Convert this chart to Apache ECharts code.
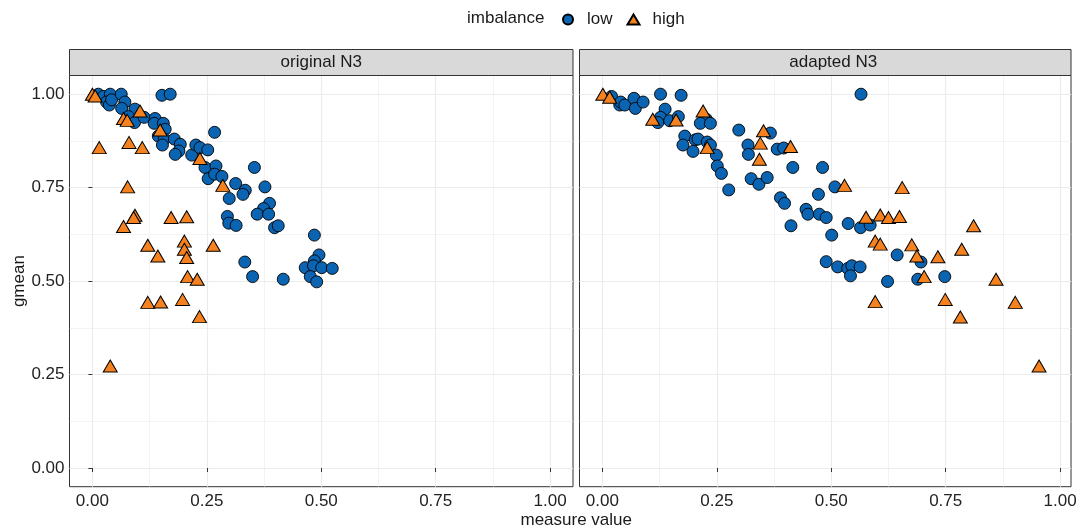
<!DOCTYPE html>
<html>
<head>
<meta charset="utf-8">
<script src="https://cdn.jsdelivr.net/npm/echarts@6/dist/echarts.min.js"></script>
<style>
  html, body { margin: 0; padding: 0; background: #ffffff; }
  #chart { width: 1079px; height: 531px; }
</style>
</head>
<body>
<div id="chart"></div>
<script>
// Facet titles and legend groups
const panelTitles = ['original N3', 'adapted N3'];
const groupNames = ['low', 'high'];
const legendTitle = 'imbalance';
const xTitle = 'measure value';
const yTitle = 'gmean';

// Axis breaks
const majorBreaks = [0, 0.25, 0.5, 0.75, 1];
const majorLabels = ['0.00', '0.25', '0.50', '0.75', '1.00'];
const minorBreaks = [0.125, 0.375, 0.625, 0.875];

// original N3 – low imbalance
const originalLowX = [0.013, 0.024, 0.039, 0.031, 0.037, 0.042, 0.063, 0.071, 0.064, 0.093, 0.079, 0.092, 0.113, 0.152, 0.170,
  0.137, 0.135, 0.155, 0.159, 0.144, 0.157, 0.153, 0.179, 0.192, 0.189, 0.181, 0.217, 0.226, 0.235, 0.252, 0.267, 0.246, 0.270,
  0.253, 0.267, 0.283, 0.354, 0.313, 0.334, 0.329, 0.299, 0.377, 0.387, 0.374, 0.360, 0.385, 0.295, 0.298, 0.314, 0.398, 0.406,
  0.333, 0.350, 0.417, 0.485, 0.495, 0.485, 0.465, 0.483, 0.501, 0.524, 0.476, 0.490];
const originalLowY = [1.000, 0.994, 1.000, 0.979, 0.971, 0.985, 1.000, 0.979, 0.962, 0.960, 0.940, 0.924, 0.938, 0.997, 1.000,
  0.935, 0.922, 0.922, 0.906, 0.888, 0.880, 0.864, 0.880, 0.866, 0.848, 0.839, 0.837, 0.864, 0.857, 0.851, 0.898, 0.804, 0.808,
  0.774, 0.786, 0.780, 0.804, 0.761, 0.743, 0.732, 0.721, 0.752, 0.708, 0.694, 0.679, 0.679, 0.673, 0.655, 0.649, 0.643, 0.648,
  0.551, 0.512, 0.505, 0.623, 0.570, 0.554, 0.536, 0.541, 0.536, 0.534, 0.512, 0.498];

// original N3 – high imbalance
const originalHighX = [0.000, 0.006, 0.015, 0.080, 0.109, 0.104, 0.068, 0.076, 0.148, 0.235, 0.285, 0.077, 0.093, 0.090, 0.068,
  0.172, 0.206, 0.121, 0.143, 0.201, 0.201, 0.206, 0.264, 0.208, 0.229, 0.121, 0.149, 0.197, 0.234, 0.039];
const originalHighY = [1.000, 0.995, 0.857, 0.871, 0.857, 0.955, 0.935, 0.930, 0.904, 0.828, 0.756, 0.752, 0.676, 0.670, 0.646,
  0.670, 0.672, 0.596, 0.567, 0.607, 0.585, 0.563, 0.596, 0.512, 0.505, 0.443, 0.444, 0.451, 0.405, 0.273];

// adapted N3 – low imbalance
const adaptedLowX = [0.020, 0.038, 0.040, 0.049, 0.069, 0.072, 0.089, 0.127, 0.172, 0.137, 0.127, 0.121, 0.147, 0.166, 0.227,
  0.214, 0.236, 0.298, 0.367, 0.180, 0.203, 0.209, 0.176, 0.198, 0.229, 0.236, 0.249, 0.251, 0.260, 0.318, 0.319, 0.382, 0.396,
  0.325, 0.342, 0.360, 0.276, 0.389, 0.398, 0.565, 0.416, 0.481, 0.508, 0.472, 0.445, 0.449, 0.474, 0.489, 0.412, 0.537, 0.564,
  0.585, 0.501, 0.644, 0.696, 0.489, 0.514, 0.536, 0.545, 0.563, 0.542, 0.623, 0.689, 0.748];
const adaptedLowY = [0.994, 0.971, 0.979, 0.971, 0.989, 0.962, 0.979, 1.000, 0.997, 0.960, 0.938, 0.924, 0.929, 0.940, 0.933,
  0.922, 0.922, 0.904, 0.896, 0.888, 0.878, 0.880, 0.864, 0.847, 0.872, 0.864, 0.837, 0.808, 0.788, 0.864, 0.839, 0.853, 0.856,
  0.774, 0.759, 0.777, 0.744, 0.723, 0.708, 1.000, 0.804, 0.804, 0.752, 0.732, 0.692, 0.679, 0.679, 0.670, 0.648, 0.654, 0.643,
  0.650, 0.623, 0.570, 0.551, 0.552, 0.538, 0.534, 0.541, 0.538, 0.514, 0.499, 0.505, 0.512];

// adapted N3 – high imbalance
const adaptedHighX = [0.001, 0.016, 0.110, 0.161, 0.220, 0.229, 0.352, 0.345, 0.343, 0.411, 0.529, 0.655, 0.576, 0.607, 0.625,
  0.649, 0.811, 0.596, 0.607, 0.676, 0.687, 0.785, 0.733, 0.703, 0.860, 0.596, 0.749, 0.902, 0.782, 0.954];
const adaptedHighY = [1.000, 0.992, 0.933, 0.931, 0.955, 0.857, 0.902, 0.869, 0.826, 0.860, 0.756, 0.750, 0.671, 0.677, 0.670,
  0.673, 0.648, 0.607, 0.599, 0.597, 0.567, 0.585, 0.565, 0.512, 0.505, 0.445, 0.451, 0.443, 0.404, 0.273];

const pairUp = (xs, ys) => xs.map((x, i) => [x, ys[i]]);

const FONT = "'Liberation Sans', Arial, sans-serif";
const TEXT = '#1a1a1a';
const GRIDLINE = '#ebebeb';
const FRAME = '#333333';
const LOW_FILL = '#0a64b2';
const HIGH_FILL = '#f5821f';

// Panel geometry: both panels share one x scale; the right one is trimmed by the page edge margin
const panelTop = 75.5;
const panelHeight = 411.2;
const panelLefts = [69.5, 579.5];
const panelWidths = [503.5, 491.5];
const stripHeight = 26;
const xMin = -0.05;
const xMaxes = panelWidths.map(w => xMin + 1.1 * w / panelWidths[0]);

const grids = panelLefts.map((left, p) => ({
  left: left, top: panelTop, width: panelWidths[p], height: panelHeight,
  show: true, backgroundColor: '#ffffff', borderColor: FRAME, borderWidth: 1,
  containLabel: false, outerBoundsMode: 'none'
}));

const fmt = v => {
  const k = majorBreaks.findIndex(b => Math.abs(b - v) < 1e-9);
  return k >= 0 ? majorLabels[k] : '';
};

function majorAxis(gridIndex, isY, showLabels) {
  return {
    type: 'value', gridIndex: gridIndex, min: isY ? -0.05 : xMin, max: isY ? 1.05 : xMaxes[gridIndex],
    axisLine: { show: false },
    axisTick: { show: showLabels, customValues: majorBreaks, length: 4, lineStyle: { color: FRAME, width: 1 } },
    axisLabel: {
      show: showLabels, customValues: majorBreaks, formatter: fmt, hideOverlap: false,
      showMinLabel: true, showMaxLabel: true,
      color: '#222222', fontSize: 17, fontFamily: FONT, margin: isY ? 5 : 6
    },
    splitLine: { show: true, lineStyle: { color: GRIDLINE, width: 1.1 } },
    z: 1
  };
}
function minorAxis(gridIndex, isY) {
  return {
    type: 'value', gridIndex: gridIndex, min: isY ? -0.05 : xMin, max: isY ? 1.05 : xMaxes[gridIndex],
    axisLine: { show: false },
    axisTick: { show: false, customValues: minorBreaks },
    axisLabel: { show: false, customValues: minorBreaks },
    splitLine: { show: true, lineStyle: { color: GRIDLINE, width: 0.6 } },
    z: 0
  };
}

const xAxes = [majorAxis(0, false, true), majorAxis(1, false, true), minorAxis(0, false), minorAxis(1, false)];
const yAxes = [majorAxis(0, true, true), majorAxis(1, true, false), minorAxis(0, true), minorAxis(1, true)];
yAxes[0].name = yTitle;
yAxes[0].nameLocation = 'middle';
yAxes[0].nameGap = 42;
yAxes[0].nameTextStyle = { color: TEXT, fontSize: 17, fontFamily: FONT };

const panelData = [
  { low: pairUp(originalLowX, originalLowY), high: pairUp(originalHighX, originalHighY) },
  { low: pairUp(adaptedLowX, adaptedLowY), high: pairUp(adaptedHighX, adaptedHighY) }
];

const series = [];
panelData.forEach((d, p) => {
  series.push({
    name: groupNames[0], type: 'scatter', xAxisIndex: p, yAxisIndex: p,
    data: d.low, symbol: 'circle', symbolSize: 12,
    itemStyle: { color: LOW_FILL, borderColor: '#000000', borderWidth: 0.9, opacity: 1 },
    emphasis: { disabled: true }, z: 3
  });
  series.push({
    name: groupNames[1], type: 'scatter', xAxisIndex: p, yAxisIndex: p,
    data: d.high, symbol: 'triangle', symbolSize: [14, 12],
    itemStyle: { color: HIGH_FILL, borderColor: '#000000', borderWidth: 1, opacity: 1 },
    emphasis: { disabled: true }, z: 4
  });
});

// Facet strips, legend title and shared x-axis title
const graphics = [];
panelLefts.forEach((left, p) => {
  graphics.push({
    type: 'rect', z: 10,
    shape: { x: left, y: panelTop - stripHeight, width: panelWidths[p], height: stripHeight },
    style: { fill: '#d9d9d9', stroke: FRAME, lineWidth: 1 }
  });
  graphics.push({
    type: 'text', z: 11,
    x: left + panelWidths[0] / 2 + (p ? 2 : 0), y: panelTop - stripHeight / 2,
    style: { text: panelTitles[p], fill: TEXT, font: '17px ' + FONT, textAlign: 'center', textVerticalAlign: 'middle' }
  });
});
graphics.push({
  type: 'text', z: 11, x: 467, y: 18.5,
  style: { text: legendTitle, fill: TEXT, font: '17px ' + FONT, textAlign: 'left', textVerticalAlign: 'middle' }
});
graphics.push({
  type: 'text', z: 11, x: (panelLefts[0] + panelLefts[1] + panelWidths[0]) / 2, y: 520,
  style: { text: xTitle, fill: TEXT, font: '17px ' + FONT, textAlign: 'center', textVerticalAlign: 'middle' }
});

const chart = echarts.init(document.getElementById('chart'), null, { renderer: 'canvas' });
chart.setOption({
  animation: false,
  backgroundColor: '#ffffff',
  textStyle: { fontFamily: FONT },
  grid: grids,
  xAxis: xAxes,
  yAxis: yAxes,
  legend: {
    left: 557, top: 6, orient: 'horizontal',
    itemWidth: 12, itemHeight: 10, itemGap: 14,
    data: [{ name: groupNames[0], icon: 'circle' }, { name: groupNames[1], icon: 'triangle' }],
    textStyle: { color: TEXT, fontSize: 17, fontFamily: FONT, padding: [0, 0, 0, 8] },
    selectedMode: false
  },
  series: series,
  graphic: graphics
});
</script>
</body>
</html>
